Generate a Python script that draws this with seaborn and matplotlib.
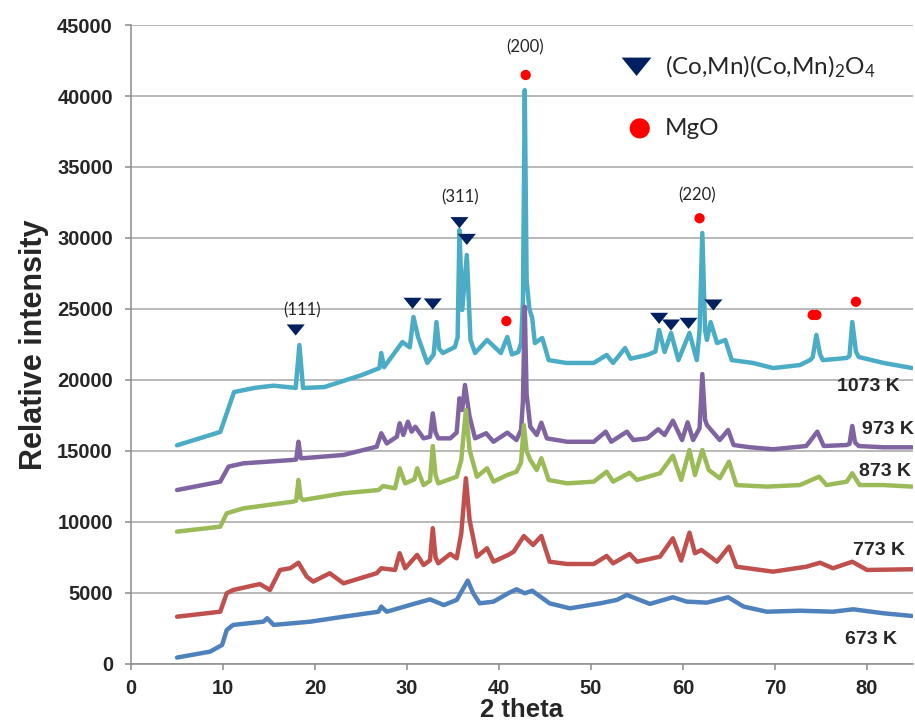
import matplotlib
matplotlib.use("Agg")
import matplotlib.pyplot as plt
import pandas as pd
import seaborn as sns

# Sample series (annealing temperature), drawn in this order
temperatures = ["1073 K", "973 K", "873 K", "773 K", "673 K"]
colors = ["#4BACC6", "#8064A2", "#9BBB59", "#C0504D", "#4F81BD"]

theta_1073 = [5.0, 9.7, 11.2, 13.5, 15.5, 17.9, 18.3, 18.7, 21.0, 25.1, 27.0, 27.2, 27.5,
              29.5, 30.3, 30.7, 31.2, 32.2, 32.9, 33.2, 33.5, 33.9, 35.2, 35.5, 35.7,
              36.0, 36.5, 36.9, 37.4, 38.7, 40.2, 40.9, 41.4, 42.1, 42.4, 42.6, 42.8,
              43.0, 43.3, 43.6, 43.9, 44.7, 45.4, 47.3, 50.3, 51.7, 52.4, 53.7, 54.3,
              56.1, 57.0, 57.4, 58.0, 58.7, 59.5, 60.7, 61.5, 61.8, 62.1, 62.4, 62.6,
              63.0, 63.7, 64.6, 65.3, 67.6, 69.8, 72.7, 73.8, 74.1, 74.5, 74.9, 75.2,
              77.8, 78.1, 78.4, 78.8, 79.1, 81.8, 84.9]
int_1073 = [15400, 16340, 19150, 19450, 19600, 19440, 22460, 19440, 19500, 20350, 20840,
            21900, 20900, 22670, 22300, 24440, 23030, 21200, 21800, 24080, 22200, 21900,
            22320, 23000, 30560, 24930, 28800, 22820, 21900, 22820, 21900, 23030, 21800,
            21970, 22600, 25500, 40420, 27000, 25000, 24400, 22600, 22960, 21400, 21200,
            21200, 21760, 21200, 22250, 21500, 21760, 22000, 23520, 21970, 23310, 21400,
            23310, 21400, 23500, 30350, 23500, 22820, 24080, 22600, 22820, 21400, 21200,
            20840, 21050, 21400, 21600, 23170, 21800, 21400, 21550, 21700, 24080, 22000,
            21620, 21200, 20840]

theta_973 = [5.0, 9.7, 10.6, 12.2, 17.6, 17.95, 18.2, 18.45, 18.7, 23.1, 26.7, 27.2,
             27.8, 28.9, 29.2, 29.6, 30.1, 30.5, 30.9, 31.8, 32.5, 32.8, 33.1, 33.4,
             34.7, 35.4, 35.7, 36.0, 36.3, 36.8, 37.4, 38.6, 39.4, 40.9, 41.9, 42.4,
             42.6, 42.8, 43.0, 43.4, 44.1, 44.6, 45.2, 47.4, 50.3, 51.6, 52.2, 53.9,
             54.6, 56.1, 57.3, 58.0, 58.9, 59.9, 60.5, 61.1, 61.8, 62.1, 62.4, 62.6,
             62.9, 64.0, 64.9, 65.5, 67.3, 69.8, 73.4, 74.6, 75.3, 77.8, 78.1, 78.4,
             78.7, 79.1, 81.8, 84.9]
int_973 = [12250, 12840, 13900, 14130, 14370, 14400, 15650, 14500, 14490, 14720, 15300,
           16250, 15530, 16010, 16950, 16130, 17060, 16360, 16710, 15890, 16000, 17650,
           16300, 15890, 15890, 16300, 18710, 17890, 19650, 17420, 15890, 16250, 15650,
           16290, 15770, 16500, 18500, 25160, 19000, 16710, 16130, 16990, 15890, 15650,
           15650, 16360, 15650, 16360, 15770, 15890, 16530, 16130, 17130, 15770, 17020,
           15770, 16600, 20420, 17200, 16830, 16600, 15770, 16480, 15420, 15260, 15120,
           15350, 16360, 15350, 15420, 15500, 16760, 15600, 15350, 15260, 15260]

theta_873 = [5.0, 9.7, 10.4, 12.2, 17.6, 17.95, 18.2, 18.45, 18.7, 23.1, 26.9, 27.4,
             28.7, 29.2, 29.8, 30.8, 31.1, 31.8, 32.5, 32.8, 33.1, 33.4, 35.4, 35.9,
             36.4, 36.8, 37.6, 38.7, 39.4, 40.9, 41.9, 42.4, 42.7, 43.0, 43.4, 44.1,
             44.6, 45.4, 47.4, 50.3, 51.7, 52.4, 54.2, 55.0, 57.5, 58.9, 59.8, 60.7,
             61.3, 62.1, 62.8, 64.0, 65.0, 65.8, 69.1, 72.7, 74.8, 75.6, 77.8, 78.4,
             79.2, 81.8, 84.9]
int_873 = [9320, 9670, 10610, 10960, 11430, 11500, 12960, 11700, 11550, 12020, 12250,
           12530, 12370, 13780, 12720, 13000, 13780, 12600, 12900, 15350, 13300, 12720,
           13190, 14370, 17890, 15070, 13190, 13780, 12840, 13310, 13540, 14200, 16830,
           15000, 14370, 13660, 14490, 12960, 12720, 12840, 13540, 12840, 13470, 12960,
           13430, 14670, 12960, 15070, 13310, 15070, 13660, 13080, 14250, 12600, 12490,
           12600, 13190, 12600, 12840, 13430, 12600, 12600, 12490]

theta_773 = [5.0, 9.7, 10.4, 11.1, 14.0, 15.1, 16.2, 17.3, 18.2, 19.1, 19.8, 21.6, 23.1,
             26.7, 27.2, 28.7, 29.2, 29.8, 31.1, 31.8, 32.5, 32.8, 33.1, 33.4, 34.7,
             35.4, 35.9, 36.4, 36.8, 37.6, 38.7, 39.4, 41.0, 41.6, 42.7, 43.7, 44.6,
             45.5, 47.4, 50.3, 51.7, 52.4, 54.2, 55.0, 57.5, 58.9, 59.8, 60.7, 61.3,
             62.0, 63.7, 65.0, 65.8, 69.8, 73.4, 74.9, 76.3, 78.4, 80.0, 84.9]
int_773 = [3330, 3680, 4980, 5210, 5630, 5210, 6620, 6740, 7130, 6150, 5800, 6390, 5680,
           6390, 6740, 6620, 7800, 6740, 7680, 6970, 7300, 9560, 7500, 7090, 7750, 7440,
           9200, 13080, 10140, 7560, 8150, 7200, 7680, 7910, 9010, 8380, 9010, 7200,
           7040, 7040, 7610, 7090, 7750, 7200, 7560, 8850, 7280, 9250, 7800, 8030, 7200,
           8260, 6850, 6500, 6850, 7130, 6740, 7200, 6620, 6670]

theta_673 = [5.0, 8.6, 9.9, 10.4, 11.1, 14.4, 14.8, 15.5, 19.5, 23.1, 26.9, 27.2, 27.8,
             30.3, 32.5, 34.0, 35.4, 36.6, 37.2, 37.9, 39.4, 41.0, 41.9, 42.8, 43.6,
             45.5, 47.7, 51.0, 52.8, 53.9, 56.4, 58.9, 60.4, 62.6, 64.9, 66.6, 69.1,
             72.7, 76.3, 78.5, 81.8, 84.9]
int_673 = [450, 870, 1340, 2390, 2750, 2980, 3220, 2750, 2980, 3330, 3680, 4040, 3680,
           4150, 4550, 4150, 4510, 5870, 4980, 4270, 4390, 4980, 5260, 4980, 5160, 4270,
           3920, 4270, 4510, 4860, 4230, 4700, 4390, 4320, 4700, 4040, 3680, 3750, 3680,
           3850, 3570, 3380]

# Phase reflections marked above the peaks
spinel_theta = [17.9, 30.6, 32.8, 35.7, 36.5, 57.4, 58.7, 60.6, 63.3]
spinel_level = [23520, 25400, 25350, 31080, 29900, 24340, 23870, 23990, 25280]
mgo_theta = [40.8, 42.9, 61.8, 74.1, 74.5, 78.8]
mgo_level = [24150, 41480, 31390, 24580, 24580, 25510]

# Miller indices
hkl_labels = ["(111)", "(311)", "(200)", "(220)"]
hkl_theta = [18.6, 35.8, 42.8, 61.5]
hkl_level = [24890, 32890, 43450, 33030]

# Sample label positions
temp_label_theta = [80.2, 82.3, 82.0, 81.3, 80.4]
temp_label_level = [19530, 16530, 13540, 7980, 1690]

x_ticks = [0, 10, 20, 30, 40, 50, 60, 70, 80]
y_ticks = [0, 5000, 10000, 15000, 20000, 25000, 30000, 35000, 40000, 45000]

series = {
    "1073 K": (theta_1073, int_1073),
    "973 K": (theta_973, int_973),
    "873 K": (theta_873, int_873),
    "773 K": (theta_773, int_773),
    "673 K": (theta_673, int_673),
}
frames = []
for name, (tt, ii) in series.items():
    frames.append(pd.DataFrame({"theta": tt, "intensity": ii, "sample": name}))
patterns = pd.concat(frames, ignore_index=True)

sns.set_style("white")
plt.rcParams["mathtext.default"] = "regular"

fig = plt.figure(figsize=(9.15, 7.27), dpi=100)
ax = fig.add_axes([0.1432, 0.0867, 0.8546, 0.8789])

sns.lineplot(data=patterns, x="theta", y="intensity", hue="sample",
             hue_order=temperatures, palette=colors, sort=False, estimator=None,
             linewidth=3.2, legend=False, ax=ax, zorder=3)

tri = [(-1.3, 0.8), (1.3, 0.8), (0.0, -0.8)]
sns.scatterplot(x=spinel_theta, y=spinel_level, marker=tri, s=170, color="#002060",
                edgecolor="none", ax=ax, zorder=4)
sns.scatterplot(x=mgo_theta, y=mgo_level, marker="o", s=55, color="#FF0000",
                edgecolor="none", ax=ax, zorder=4)

# Phase key
sns.scatterplot(x=[54.95], y=[42060], marker=tri, s=460, color="#002060",
                edgecolor="none", ax=ax, zorder=4)
sns.scatterplot(x=[55.3], y=[37720], marker="o", s=210, color="#FF0000",
                edgecolor="none", ax=ax, zorder=4)
ax.text(58.0, 42060, "(Co,Mn)(Co,Mn)$_2$O$_4$", fontsize=17.5, family="Lato",
        ha="left", va="center", zorder=5)
ax.text(58.0, 37740, "MgO", fontsize=17.5, family="Lato", ha="left", va="center", zorder=5)

for lab, tx, ty in zip(hkl_labels, hkl_theta, hkl_level):
    ax.text(tx, ty, lab, fontsize=12, family="Lato", ha="center", va="center", zorder=5)

for lab, tx, ty in zip(temperatures, temp_label_theta, temp_label_level):
    ax.text(tx, ty, lab, fontsize=14, family="Liberation Sans", fontweight="bold",
            ha="center", va="center", zorder=5)

ax.set_xlim(0, 85)
ax.set_ylim(0, 45000)
ax.set_xticks(x_ticks)
ax.set_yticks(y_ticks)
ax.set_xticklabels([str(v) for v in x_ticks])
ax.set_yticklabels([str(v) for v in y_ticks])
for lab in ax.get_xticklabels() + ax.get_yticklabels():
    lab.set_fontfamily("Liberation Sans")
    lab.set_fontweight("bold")
    lab.set_fontsize(14.5)

ax.yaxis.grid(True, color="#A6A6A6", linewidth=1.1, zorder=0)
ax.xaxis.grid(False)
ax.set_axisbelow(True)
for side in ["top", "right"]:
    ax.spines[side].set_visible(False)
for side in ["left", "bottom"]:
    ax.spines[side].set_color("#8C8C8C")
    ax.spines[side].set_linewidth(1.1)
ax.tick_params(axis="both", which="major", direction="out", length=4, width=1.1,
               color="#8C8C8C", left=True, bottom=True, pad=9)
ax.tick_params(axis="x", pad=7)

ax.set_xlabel("2 theta", fontsize=18.5, family="Liberation Sans", fontweight="bold",
              labelpad=0)
ax.set_ylabel("Relative intensity", fontsize=22, family="Liberation Sans",
              fontweight="bold", labelpad=6)

fig.savefig("out.png", dpi=100)
